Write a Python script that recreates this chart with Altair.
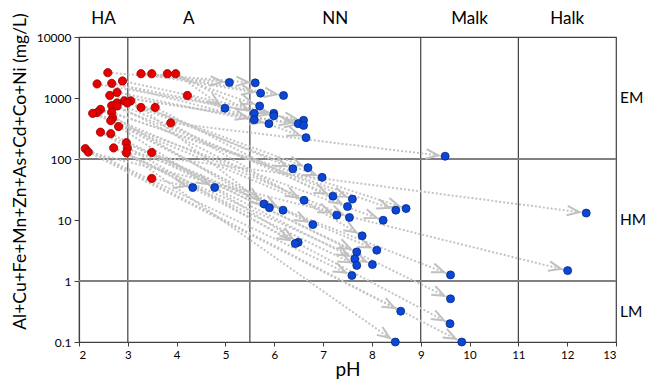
import math
import altair as alt
import pandas as pd

# ---- data ----
red_ph = [2.59, 3.27, 3.49, 3.81, 3.98, 2.89, 2.67, 2.37, 2.78, 2.63, 4.22, 2.93, 3.06,
          2.99, 2.78, 2.67, 2.78, 3.27, 3.56, 2.44, 2.67, 2.37, 2.28, 2.69, 2.65, 3.88,
          2.81, 2.44, 2.65, 2.97, 2.71, 2.99, 2.13, 3.49, 2.19, 2.97, 3.49]
red_conc = [2600, 2500, 2500, 2500, 2500, 1900, 1740, 1700, 1240, 1100, 1100, 900, 900,
            830, 830, 750, 740, 700, 700, 650, 585, 575, 560, 470, 425, 390,
            340, 275, 260, 185, 152, 150, 148, 128, 130, 126, 48]

blue_ph = [5.08, 5.61, 5.72, 6.19, 5.70, 4.99, 5.59, 5.99, 5.99, 5.59, 6.60, 5.89, 6.49,
           6.60, 6.65, 9.50, 6.69, 6.38, 6.98, 4.33, 4.78, 7.20, 7.60, 6.61, 5.79, 7.50,
           5.90, 8.70, 8.49, 6.18, 12.39, 7.28, 7.54, 8.23, 6.79, 7.80, 6.49, 6.43, 8.10,
           7.69, 7.65, 8.01, 7.69, 12.01, 9.61, 7.59, 9.61, 8.59, 9.60, 8.48, 9.84]
blue_conc = [1800, 1770, 1200, 1100, 740, 680, 560, 560, 510, 440, 430, 380, 380,
             355, 224, 111, 72, 69, 50, 34, 34, 24.6, 22, 21, 18.3, 16.6,
             15.9, 15.4, 14.5, 14.5, 13, 12, 11, 9.9, 8.4, 5.5, 4.3, 4.1, 3.2,
             3.0, 2.3, 1.86, 1.8, 1.48, 1.26, 1.23, 0.51, 0.32, 0.20, 0.10, 0.10]
# index of the red (before) point each blue (after) point's arrow starts from
arrow_from = [0, 1, 1, 2, 3, 4, 4, 5, 6, 6, 7, 8, 9, 9, 10, 25, 11, 12, 13, 36,
              33, 14, 15, 16, 17, 18, 19, 19, 20, 21, 35, 22, 23, 24, 24, 25, 26, 27,
              27, 28, 29, 30, 30, 34, 31, 32, 33, 34, 35, 35, 32]

zone_edges = [2, 3, 5.5, 9, 11, 13]
zone_names = ["HA", "A", "NN", "Malk", "Halk"]
class_edges = [10000, 100, 1, 0.1]
class_names = ["EM", "HM", "LM"]

x_ticks = list(range(2, 14))
y_ticks = [0.1, 1, 10, 100, 1000, 10000]

# ---- layout ----
W, H = 537, 305
X_DOM = [2, 13]
Y_DOM = [0.1, 10000]
FONT = "Lato"

red_df = pd.DataFrame({"pH": red_ph, "conc": red_conc})
blue_df = pd.DataFrame({"pH": blue_ph, "conc": blue_conc})

x1 = [red_ph[i] for i in arrow_from]
y1 = [red_conc[i] for i in arrow_from]
angles = []
for a, b, c, d in zip(x1, y1, blue_ph, blue_conc):
    dx = (c - a) / (X_DOM[1] - X_DOM[0]) * W
    dy = (math.log10(b) - math.log10(d)) / (math.log10(Y_DOM[1]) - math.log10(Y_DOM[0])) * H
    angles.append((math.degrees(math.atan2(dy, dx)) + 360) % 360)
arrow_df = pd.DataFrame({"x1": x1, "y1": y1, "x2": blue_ph, "y2": blue_conc, "ang": angles})

vlines_df = pd.DataFrame({"pH": zone_edges[1:-1]})
hlines_df = pd.DataFrame({"conc": class_edges[1:-1]})
zones_df = pd.DataFrame({
    "name": zone_names,
    "mid": [(zone_edges[i] + zone_edges[i + 1]) / 2 for i in range(len(zone_names))],
})
classes_df = pd.DataFrame({
    "name": class_names,
    "mid": [math.sqrt(class_edges[i] * class_edges[i + 1]) for i in range(len(class_names))],
})

xs = alt.Scale(domain=X_DOM, nice=False, zero=False)
ys = alt.Scale(type="log", domain=Y_DOM, nice=False)

x_axis = alt.Axis(values=x_ticks, title="pH", grid=False, tickSize=4, labelPadding=3,
                  labelFontSize=11.5, titleFontSize=19, titleFontWeight="normal",
                  titleY=18, titleBaseline="top")
y_axis = alt.Axis(values=y_ticks, format="~g", title="Al+Cu+Fe+Mn+Zn+As+Cd+Co+Ni (mg/L)",
                  grid=False, tickSize=5, labelPadding=3, labelFontSize=12,
                  titleFontSize=17.5, titleFontWeight="normal", titleX=-50, titleY=134)

vlines = alt.Chart(vlines_df).mark_rule(color="#404040", strokeWidth=1.2).encode(
    x=alt.X("pH:Q", scale=xs, axis=x_axis))
hlines = alt.Chart(hlines_df).mark_rule(color="#808080", strokeWidth=2).encode(
    y=alt.Y("conc:Q", scale=ys, axis=y_axis))

arrows = alt.Chart(arrow_df).mark_rule(color="#c4c4c4", strokeWidth=2, strokeDash=[2, 2]).encode(
    x=alt.X("x1:Q", scale=xs, axis=x_axis), y=alt.Y("y1:Q", scale=ys, axis=y_axis),
    x2="x2:Q", y2="y2:Q")

heads = alt.Chart(arrow_df).mark_point(
    shape="M -3.2 -0.8 L -1.15 0 L -3.2 0.8", filled=False, stroke="#c0c0c0",
    strokeWidth=2, size=144, opacity=1).encode(
    x=alt.X("x2:Q", scale=xs, axis=x_axis), y=alt.Y("y2:Q", scale=ys, axis=y_axis),
    angle=alt.Angle("ang:Q", scale=None))

reds = alt.Chart(red_df).mark_point(shape="circle", filled=True, fill="#e60000",
                                    stroke="#900000", strokeWidth=0.8, size=68, opacity=1).encode(
    x=alt.X("pH:Q", scale=xs, axis=x_axis), y=alt.Y("conc:Q", scale=ys, axis=y_axis))
blues = alt.Chart(blue_df).mark_point(shape="circle", filled=True, fill="#0a46d8",
                                      stroke="#06297f", strokeWidth=0.8, size=64, opacity=1).encode(
    x=alt.X("pH:Q", scale=xs, axis=x_axis), y=alt.Y("conc:Q", scale=ys, axis=y_axis))

zone_text = alt.Chart(zones_df).mark_text(fontSize=17, font=FONT, baseline="middle",
                                          align="center", color="black").encode(
    x=alt.X("mid:Q", scale=xs, axis=x_axis), y=alt.value(-18), text="name:N")
class_text = alt.Chart(classes_df).mark_text(fontSize=15.5, font=FONT, baseline="middle",
                                             align="left", color="black").encode(
    x=alt.value(W + 4), y=alt.Y("mid:Q", scale=ys, axis=y_axis), text="name:N")

chart = alt.layer(vlines, hlines, arrows, heads, reds, blues, zone_text, class_text).properties(
    width=W, height=H,
    padding={"left": 71, "top": 29, "right": 31, "bottom": 40},
    autosize=alt.AutoSizeParams(type="none"),
).configure_view(stroke="#404040", strokeWidth=1.2).configure_axis(
    domainColor="#404040", tickColor="#404040", labelColor="black", titleColor="black",
    labelFont=FONT, titleFont=FONT, domainWidth=1.2,
)

chart.save("out.html", embed_options={"renderer": "svg", "actions": False})
